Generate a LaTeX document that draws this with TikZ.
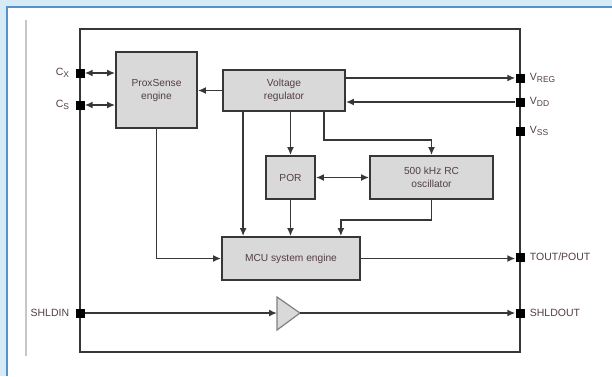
\documentclass[tikz,border=0pt]{standalone}
\usepackage{fontspec}
\setmainfont{Liberation Sans}
\usetikzlibrary{positioning,calc,arrows.meta}

\definecolor{framebg}{RGB}{214,234,248}
\definecolor{frameln}{RGB}{84,146,200}
\definecolor{boxfill}{RGB}{217,217,217}
\definecolor{wire}{RGB}{55,55,55}
\definecolor{txt}{RGB}{82,62,72}

\tikzset{
	blk/.style={draw=wire,fill=boxfill,line width=1.8,text=txt,align=center,
		font=\fontsize{10.2}{13}\selectfont,inner sep=0},
	pinsq/.style={fill=black,minimum size=9,inner sep=0},
	pinlbl/.style={text=txt,font=\fontsize{10.5}{12}\selectfont,inner sep=0},
	wr/.style={draw=wire,line width=1.8},
	>={Latex[length=8pt,width=7pt]}
}
\newcommand\sbs[1]{\raisebox{-0.45ex}{\fontsize{8.5}{9}\selectfont #1}}

\begin{document}
\begin{tikzpicture}[x=1pt,y=-1pt]
		\useasboundingbox (0,0) rectangle (612,376);
		% page frame
		\fill[framebg] (0,0) rectangle (612,376);
		\fill[white] (7,7) rectangle (612,376);
		\draw[frameln,line width=1.5] (7,376) -- (7,7) -- (612,7);
		\draw[line width=2,color=gray!45] (26,20) -- (26,356);

		% chip outline
		\draw[wire,line width=2.2] (80,29) rectangle (520,352);

		% blocks
		\node[blk,minimum width=81,minimum height=76] (prox) at (156.5,90) {ProxSense\\engine};
		\node[blk,minimum width=122,minimum height=41] (vr) at (284,90.5) {Voltage\\regulator};
		\node[blk,minimum width=49,minimum height=43] (por) at (290.5,177.5) {POR};
		\node[blk,minimum width=123,minimum height=43] (osc) at (431.5,177.5) {500 kHz RC\\oscillator};
		\node[blk,minimum width=138,minimum height=43] (mcu) at (291,258.5) {MCU system engine};

		% buffer
		\draw[fill=boxfill,draw=gray,line width=1.2] (277,297) -- (300,313) -- (277,330) -- cycle;
		\coordinate (bufin) at (277,313);
		\coordinate (bufout) at (300,313);

		% pins
		\foreach \p/\y in {cx/73,cs/105,shldin/313}
			\node[pinsq] (\p) at (80,\y) {};
		\foreach \p/\y in {vreg/78,vdd/102,vss/131,tout/257,shldout/313}
			\node[pinsq] (\p) at (520,\y) {};
		\foreach \p/\t in {cx/C\sbs{X},cs/C\sbs{S},shldin/SHLDIN}
			\node[pinlbl,anchor=east] (\p-l) at ($(\p.west)+(-6,0)$) {\t};
		\foreach \p/\t in {vreg/V\sbs{REG},vdd/V\sbs{DD},vss/V\sbs{SS},tout/{TOUT/POUT},shldout/SHLDOUT}
			\node[pinlbl,anchor=west] (\p-l) at ($(\p.east)+(5,0)$) {\t};

		% connections
		\draw[wr,<->] (cx.east) -- (cx -| prox.west);
		\draw[wr,<->] (cs.east) -- (cs -| prox.west);
		\draw[wr,->] (vr.west) -- (vr.west -| prox.east);
		\draw[wr,->] (vr.east |- vreg) -- (vreg.west);
		\draw[wr,->] (vdd.west) -- (vdd -| vr.east);
		\draw[wr,->] (vr.south -| por) -- (por.north);
		\draw[wr,->] ($(vr.south west)+(21,0)$) coordinate (vrm) -- (vrm |- mcu.north);
		\draw[wr,->] ($(vr.south east)+(-22,0)$) -- ++(0,28) -| (osc.north);
		\draw[wr,<->] (por.east) -- (osc.west);
		\draw[wr,->] (por.south) -- (por.south |- mcu.north);
		\draw[wr,->] (osc.south) -- ++(0,20) -| ($(mcu.north east)+(-20,0)$);
		\draw[wr,->] (prox.south) |- (mcu.west);
		\draw[wr,->] (mcu.east) -- (mcu -| tout.west);
		\draw[wr,->] (shldin.east) -- (bufin);
		\draw[wr,->] (bufout) -- (shldout.west);
	\end{tikzpicture}
\end{document}
